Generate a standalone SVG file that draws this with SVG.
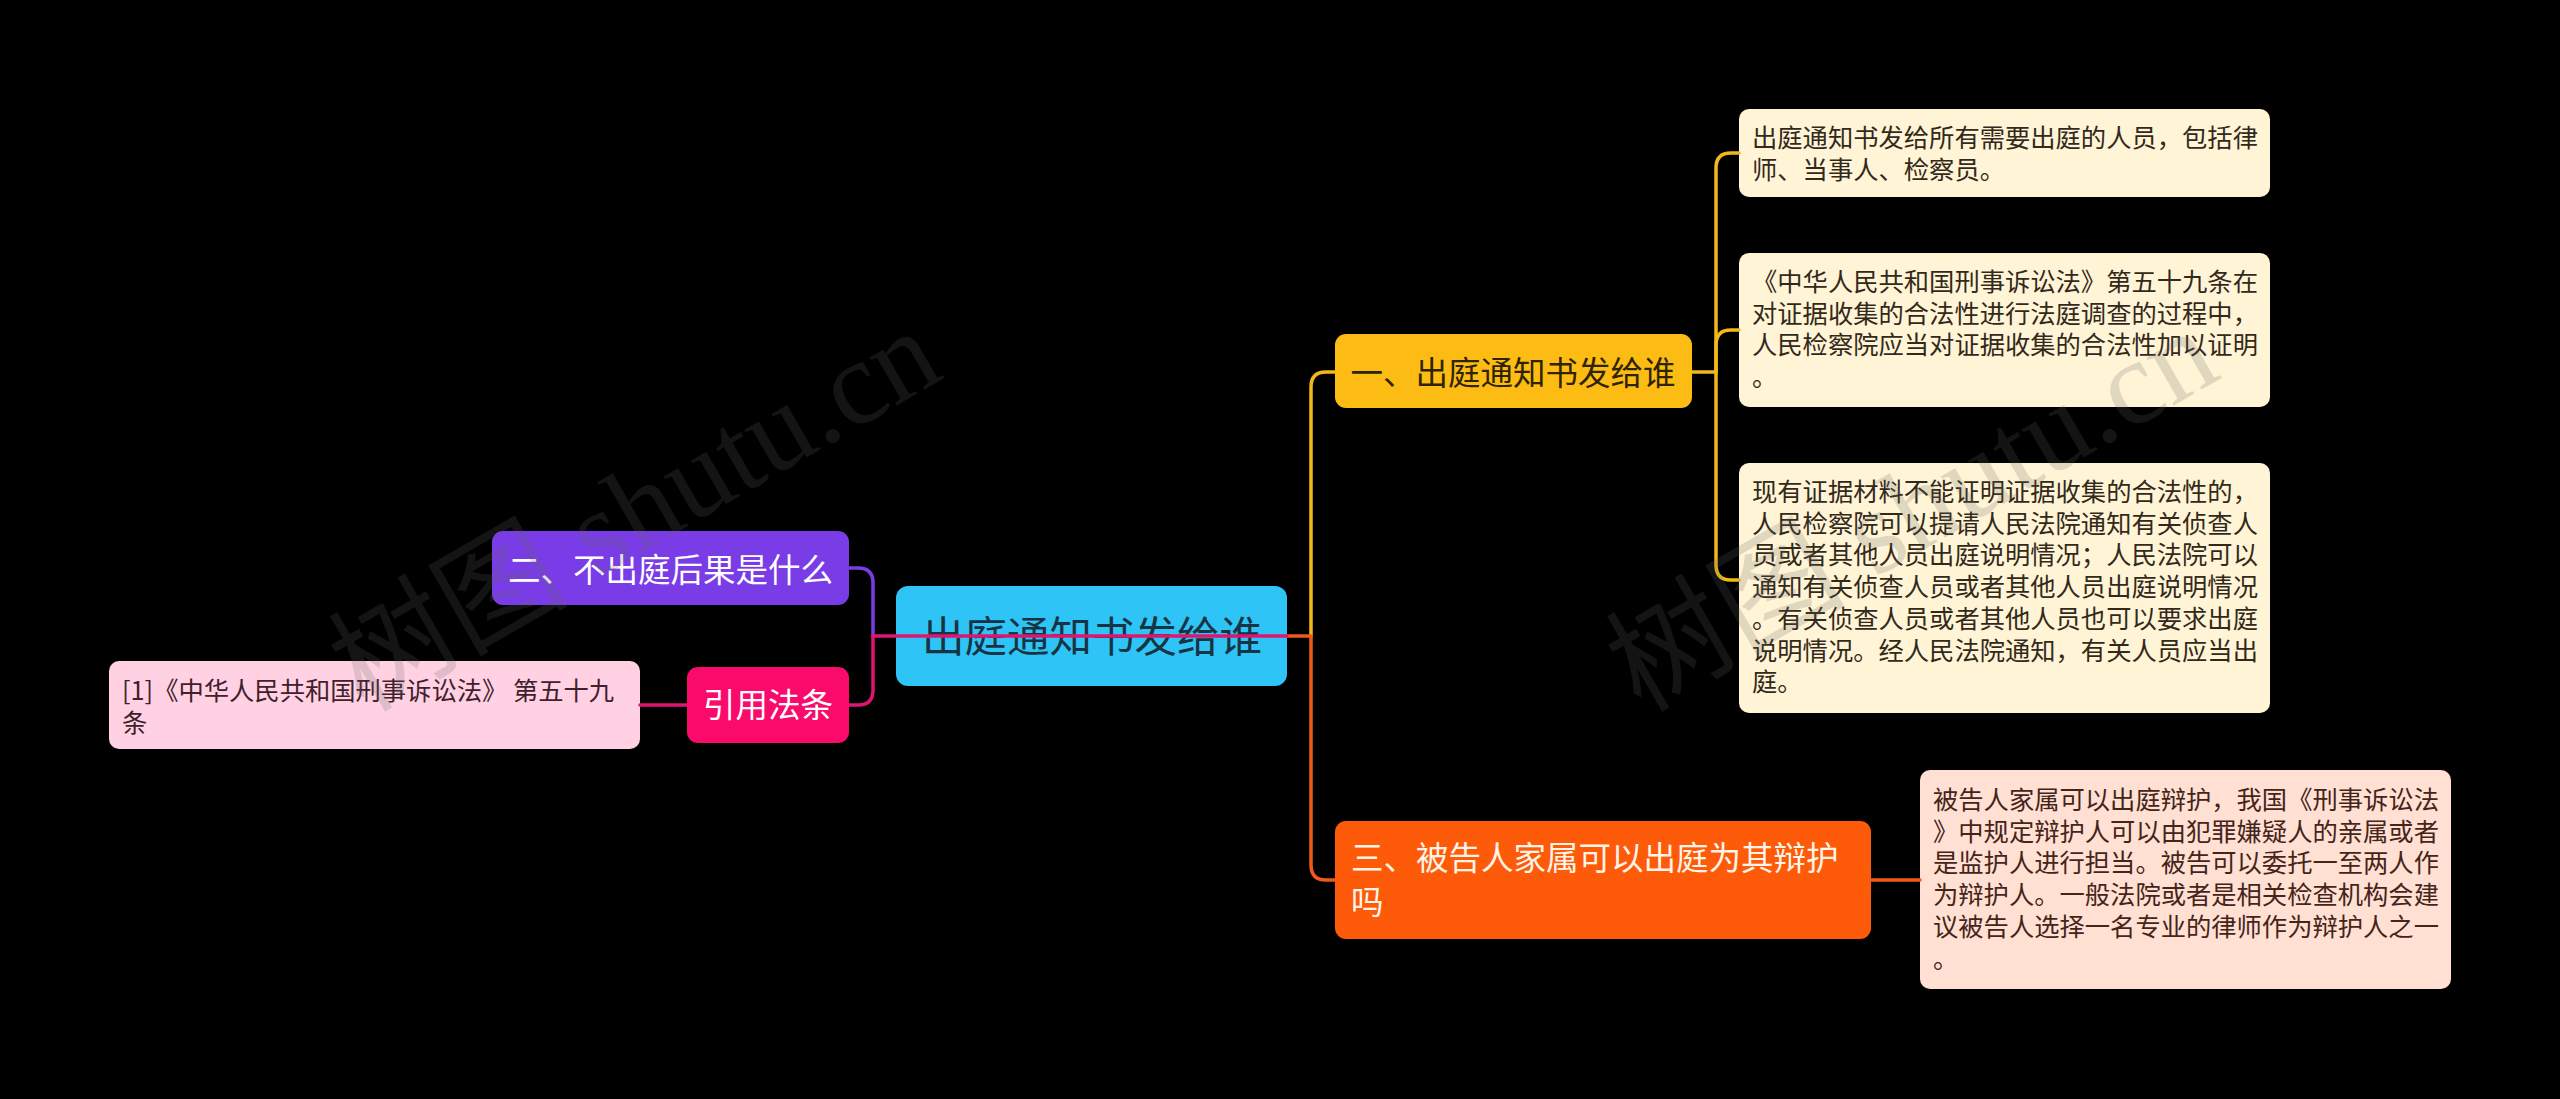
<svg xmlns="http://www.w3.org/2000/svg" width="2560" height="1099" viewBox="0 0 2560 1099">
<style>
text{font-family:"Noto Sans CJK SC","Noto Sans",sans-serif;}
.leaf{font-size:25.3px;}
.main{font-size:32.5px;}
.c{fill:none;stroke-width:3.5;stroke-linecap:round;stroke-linejoin:round;}
.wm{font-family:"Liberation Serif","Noto Sans CJK SC",serif;font-size:120px;fill:#646464;fill-opacity:0.2;}
</style>
<rect width="2560" height="1099" fill="#000"/>
<g id="root">
<rect x="896" y="586" width="391" height="100" rx="12" fill="#2EC4F5"/>
<text x="1092" y="652" font-size="42.5" text-anchor="middle" fill="#173444">出庭通知书发给谁</text>
</g>
<g id="n1">
<rect x="1335" y="334" width="357" height="74" rx="11" fill="#FDBC14"/>
<text class="main" x="1513" y="385" text-anchor="middle" fill="#2f2400">一、出庭通知书发给谁</text>
</g>
<g id="n3">
<rect x="1335" y="821" width="536" height="118" rx="11" fill="#FD5A09"/>
<text class="main" fill="#FFF4E8"><tspan x="1351" y="870">三、被告人家属可以出庭为其辩护</tspan><tspan x="1351" y="914">吗</tspan></text>
</g>
<g id="n2">
<rect x="492" y="531" width="357" height="74" rx="11" fill="#7A3CE6"/>
<text class="main" x="670.5" y="582" text-anchor="middle" fill="#FFFFFF">二、不出庭后果是什么</text>
</g>
<g id="ref">
<rect x="687" y="667" width="162" height="76" rx="11" fill="#FA0A6B"/>
<text class="main" x="768" y="717" text-anchor="middle" fill="#FFFFFF">引用法条</text>
</g>
<g id="leaf-ref">
<rect x="109" y="661" width="531" height="88" rx="10" fill="#FFD1E3"/>
<text class="leaf" fill="#40202c"><tspan x="122" y="700">[1]《中华人民共和国刑事诉讼法》 第五十九</tspan><tspan x="122" y="731.7">条</tspan></text>
</g>
<g id="leaf1">
<rect x="1739" y="109" width="531" height="88" rx="10" fill="#FFF4D6"/>
<text class="leaf" fill="#33291a"><tspan x="1752" y="147">出庭通知书发给所有需要出庭的人员，包括律</tspan><tspan x="1752" y="178.7">师、当事人、检察员。</tspan></text>
</g>
<g id="leaf2">
<rect x="1739" y="253" width="531" height="154" rx="10" fill="#FFF4D6"/>
<text class="leaf" fill="#33291a"><tspan x="1752" y="291">《中华人民共和国刑事诉讼法》第五十九条在</tspan><tspan x="1752" y="322.7">对证据收集的合法性进行法庭调查的过程中，</tspan><tspan x="1752" y="354.4">人民检察院应当对证据收集的合法性加以证明</tspan><tspan x="1752" y="386.1">。</tspan></text>
</g>
<g id="leaf3">
<rect x="1739" y="463" width="531" height="250" rx="10" fill="#FFF4D6"/>
<text class="leaf" fill="#33291a"><tspan x="1752" y="501">现有证据材料不能证明证据收集的合法性的，</tspan><tspan x="1752" y="532.7">人民检察院可以提请人民法院通知有关侦查人</tspan><tspan x="1752" y="564.4">员或者其他人员出庭说明情况；人民法院可以</tspan><tspan x="1752" y="596.1">通知有关侦查人员或者其他人员出庭说明情况</tspan><tspan x="1752" y="627.8">。有关侦查人员或者其他人员也可以要求出庭</tspan><tspan x="1752" y="659.5">说明情况。经人民法院通知，有关人员应当出</tspan><tspan x="1752" y="691.2">庭。</tspan></text>
</g>
<g id="leaf4">
<rect x="1920" y="770" width="531" height="219" rx="10" fill="#FFE0D2"/>
<text class="leaf" fill="#45241a"><tspan x="1933" y="809">被告人家属可以出庭辩护，我国《刑事诉讼法</tspan><tspan x="1933" y="840.7">》中规定辩护人可以由犯罪嫌疑人的亲属或者</tspan><tspan x="1933" y="872.4">是监护人进行担当。被告可以委托一至两人作</tspan><tspan x="1933" y="904.1">为辩护人。一般法院或者是相关检查机构会建</tspan><tspan x="1933" y="935.8">议被告人选择一名专业的律师作为辩护人之一</tspan><tspan x="1933" y="967.5">。</tspan></text>
</g>
<g id="connectors">
<path class="c" stroke="#F2B817" d="M1311,636 V387 Q1311,372 1326,372 H1335"/>
<path class="c" stroke="#F0591A" d="M1287,636 H1311 V865 Q1311,880 1326,880 H1335"/>
<path class="c" stroke="#F2B817" d="M1692,372 H1716"/>
<path class="c" stroke="#F2B817" d="M1716,372 V168 Q1716,153 1731,153 H1739"/>
<path class="c" stroke="#F2B817" d="M1716,372 V345 Q1716,330 1731,330 H1739"/>
<path class="c" stroke="#F2B817" d="M1716,372 V565 Q1716,580 1731,580 H1739"/>
<path class="c" stroke="#F0591A" d="M1871,880 H1920"/>
<path class="c" stroke="#7A3CE6" d="M873,636 V583 Q873,568 858,568 H849"/>
<path class="c" stroke="#DE1670" d="M873,636 V690 Q873,705 858,705 H849"/>
<path class="c" stroke="#DE1670" d="M1287,636 H873"/>
<path class="c" stroke="#DE1670" d="M687,705 H640"/>
</g>
<g id="watermark">
<text class="wm" transform="translate(655,545) rotate(-30)" text-anchor="middle">树图 shutu.cn</text>
<text class="wm" transform="translate(1932,545) rotate(-30)" text-anchor="middle">树图 shutu.cn</text>
</g>
</svg>
